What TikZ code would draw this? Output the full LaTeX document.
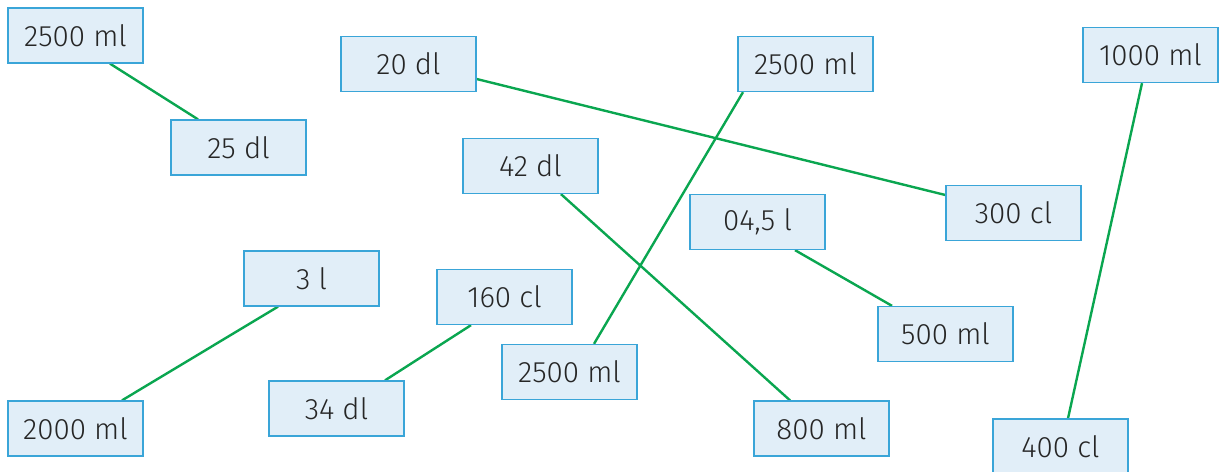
\documentclass[tikz,border=0pt]{standalone}
\usepackage{fontspec}
\setmainfont{Fira Sans Light}
\usetikzlibrary{backgrounds}
\definecolor{boxfill}{HTML}{E1EEF8}
\definecolor{boxdraw}{HTML}{3AA5D8}
\definecolor{linkgreen}{HTML}{0AA650}
\definecolor{txt}{HTML}{262626}
\tikzset{
  vbox/.style={draw=boxdraw, fill=boxfill, line width=1.3pt, minimum width=135pt, minimum height=55pt, inner sep=0pt, text=txt, font=\fontsize{29.5}{34}\selectfont},
  link/.style={draw=linkgreen, line width=2.4pt}
}
\begin{document}
\begin{tikzpicture}[x=1pt,y=-1pt]
\clip (0,0) rectangle (1222,471);
\node[vbox] (A) at (75.5,35.5) {2500 ml};
\node[vbox] (B) at (238.5,147.5) {25 dl};
\node[vbox] (C) at (408.5,64) {20 dl};
\node[vbox] (D) at (805.5,64) {2500 ml};
\node[vbox] (E) at (1150.5,55) {1000 ml};
\node[vbox] (F) at (530.5,166) {42 dl};
\node[vbox] (G) at (1013.5,213) {300 cl};
\node[vbox] (H) at (757.5,222) {04,5 l};
\node[vbox] (I) at (311.5,278.5) {3 l};
\node[vbox] (J) at (504.5,297) {160 cl};
\node[vbox] (K) at (945.5,334) {500 ml};
\node[vbox] (L) at (569.5,372) {2500 ml};
\node[vbox] (M) at (75.5,428.5) {2000 ml};
\node[vbox] (N) at (336.5,408.5) {34 dl};
\node[vbox] (O) at (821.5,428.5) {800 ml};
\node[vbox] (P) at (1060.5,446.5) {400 cl};
\begin{scope}[on background layer]
\draw[link] ([xshift=34.5pt]A.south) -- ([xshift=-40.5pt]B.north);
\draw[link] ([yshift=-15pt]C.east) -- ([yshift=18pt]G.west);
\draw[link] ([xshift=-62.5pt]D.south) -- ([xshift=24.5pt]L.north);
\draw[link] ([xshift=-8.5pt]E.south) -- ([xshift=7.5pt]P.north);
\draw[link] ([xshift=30.5pt]F.south) -- ([xshift=-31.5pt]O.north);
\draw[link] ([xshift=37.5pt]H.south) -- ([xshift=-53.5pt]K.north);
\draw[link] ([xshift=-33.5pt]I.south) -- ([xshift=46.5pt]M.north);
\draw[link] ([xshift=-33.5pt]J.south) -- ([xshift=48.5pt]N.north);
\end{scope}
\end{tikzpicture}
\end{document}
